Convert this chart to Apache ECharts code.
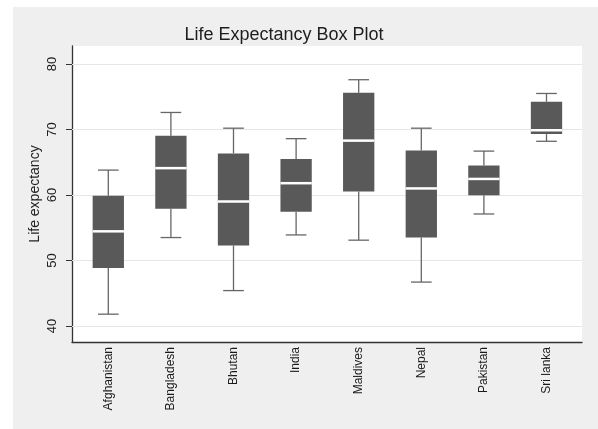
<!DOCTYPE html>
<html>
<head>
<meta charset="utf-8">
<script src="https://cdn.jsdelivr.net/npm/echarts@6/dist/echarts.min.js"></script>
<style>
html,body{margin:0;padding:0;background:#fff;}
#main{width:598px;height:429px;}
</style>
</head>
<body>
<div id="main"></div>
<script>
var categories = ['Afghanistan','Bangladesh','Bhutan','India','Maldives','Nepal','Pakistan','Sri lanka'];
var lowWhisker = [41.8, 53.5, 45.4, 53.9, 53.1, 46.7, 57.1, 68.2];
var q1Values   = [48.85, 57.9, 52.3, 57.45, 60.55, 53.5, 59.95, 69.3];
var medians    = [54.45, 64.1, 59.0, 61.8, 68.3, 61.0, 62.45, 69.9];
var q3Values   = [59.9, 69.05, 66.35, 65.5, 75.6, 66.8, 64.5, 74.25];
var highWhisker= [63.8, 72.6, 70.2, 68.6, 77.6, 70.2, 66.7, 75.5];
var yTicks = [40, 50, 60, 70, 80];

var boxData = categories.map(function(c, i){
  return [i, lowWhisker[i], q1Values[i], medians[i], q3Values[i], highWhisker[i]];
});

var YMIN = 37.55, YMAX = 82.75;
var FONT = 'Liberation Sans, Arial, sans-serif';

var chart = echarts.init(document.getElementById('main'), null, {renderer:'canvas'});
chart.setOption({
  animation: false,
  backgroundColor: '#ffffff',
  graphic: [
    {type:'rect', shape:{x:13, y:7, width:585, height:422}, style:{fill:'#efefef'}, z:-10, silent:true},
    {type:'text', x:284, y:35, style:{text:'Life Expectancy Box Plot', fill:'#1e1e1e', font:'18px ' + FONT, textAlign:'center', textVerticalAlign:'middle'}},
    {type:'text', x:35, y:194, rotation:Math.PI/2, style:{text:'Life expectancy', fill:'#222', font:'14px ' + FONT, textAlign:'center', textVerticalAlign:'middle'}}
  ],
  grid: [
    {left:72, right:16, top:46, bottom:87, show:true, backgroundColor:'#ffffff', borderWidth:0},
    {left:77, right:20.2, top:46, bottom:87}
  ],
  xAxis: [
    {gridIndex:0, type:'value', min:0, max:1, axisLine:{show:true, lineStyle:{color:'#333', width:1.3}}, axisTick:{show:false}, axisLabel:{show:false}, splitLine:{show:false}},
    {gridIndex:1, type:'category', data:categories, boundaryGap:true,
     axisLine:{show:false}, axisTick:{show:false}, splitLine:{show:false},
     axisLabel:{rotate:90, margin:5, fontSize:12, fontFamily:FONT, color:'#1a1a1a', interval:0}}
  ],
  yAxis: [
    {gridIndex:0, type:'value', min:YMIN, max:YMAX,
     axisLine:{show:true, lineStyle:{color:'#333', width:1.3}},
     axisTick:{show:true, length:6, lineStyle:{color:'#333'}, customValues:yTicks},
     axisLabel:{show:true, rotate:90, margin:13, fontSize:13, fontFamily:FONT, color:'#1a1a1a', customValues:yTicks},
     splitLine:{show:false}},
    {gridIndex:1, type:'value', min:YMIN, max:YMAX, show:false}
  ],
  series: [
    {
      type:'line', xAxisIndex:0, yAxisIndex:0, data:[], silent:true, z:1,
      markLine:{silent:true, symbol:'none', label:{show:false}, z:1,
        lineStyle:{color:'#e6e6e6', width:1, type:'solid'},
        data: yTicks.map(function(v){ return {yAxis:v}; })}
    },
    {
      type:'custom', xAxisIndex:1, yAxisIndex:1, data:boxData, z:10,
      renderItem: function(params, api){
        var x = api.value(0);
        var pLow = api.coord([x, api.value(1)]);
        var pQ1 = api.coord([x, api.value(2)]);
        var pMed = api.coord([x, api.value(3)]);
        var pQ3 = api.coord([x, api.value(4)]);
        var pHigh = api.coord([x, api.value(5)]);
        var band = api.size([1, 0])[0];
        var bw = band * 0.5, cw = band * 0.33;
        var cx = pMed[0];
        var lineStyle = {stroke:'#666666', lineWidth:1.3};
        return {type:'group', children:[
          {type:'line', shape:{x1:cx, y1:pHigh[1], x2:cx, y2:pQ3[1]}, style:lineStyle},
          {type:'line', shape:{x1:cx, y1:pQ1[1], x2:cx, y2:pLow[1]}, style:lineStyle},
          {type:'line', shape:{x1:cx-cw/2, y1:pHigh[1], x2:cx+cw/2, y2:pHigh[1]}, style:lineStyle},
          {type:'line', shape:{x1:cx-cw/2, y1:pLow[1], x2:cx+cw/2, y2:pLow[1]}, style:lineStyle},
          {type:'rect', shape:{x:cx-bw/2, y:pQ3[1], width:bw, height:pQ1[1]-pQ3[1]}, style:{fill:'#595959'}},
          {type:'line', shape:{x1:cx-bw/2, y1:pMed[1], x2:cx+bw/2, y2:pMed[1]}, style:{stroke:'#ffffff', lineWidth:2.5}}
        ]};
      }
    }
  ]
});
</script>
</body>
</html>
